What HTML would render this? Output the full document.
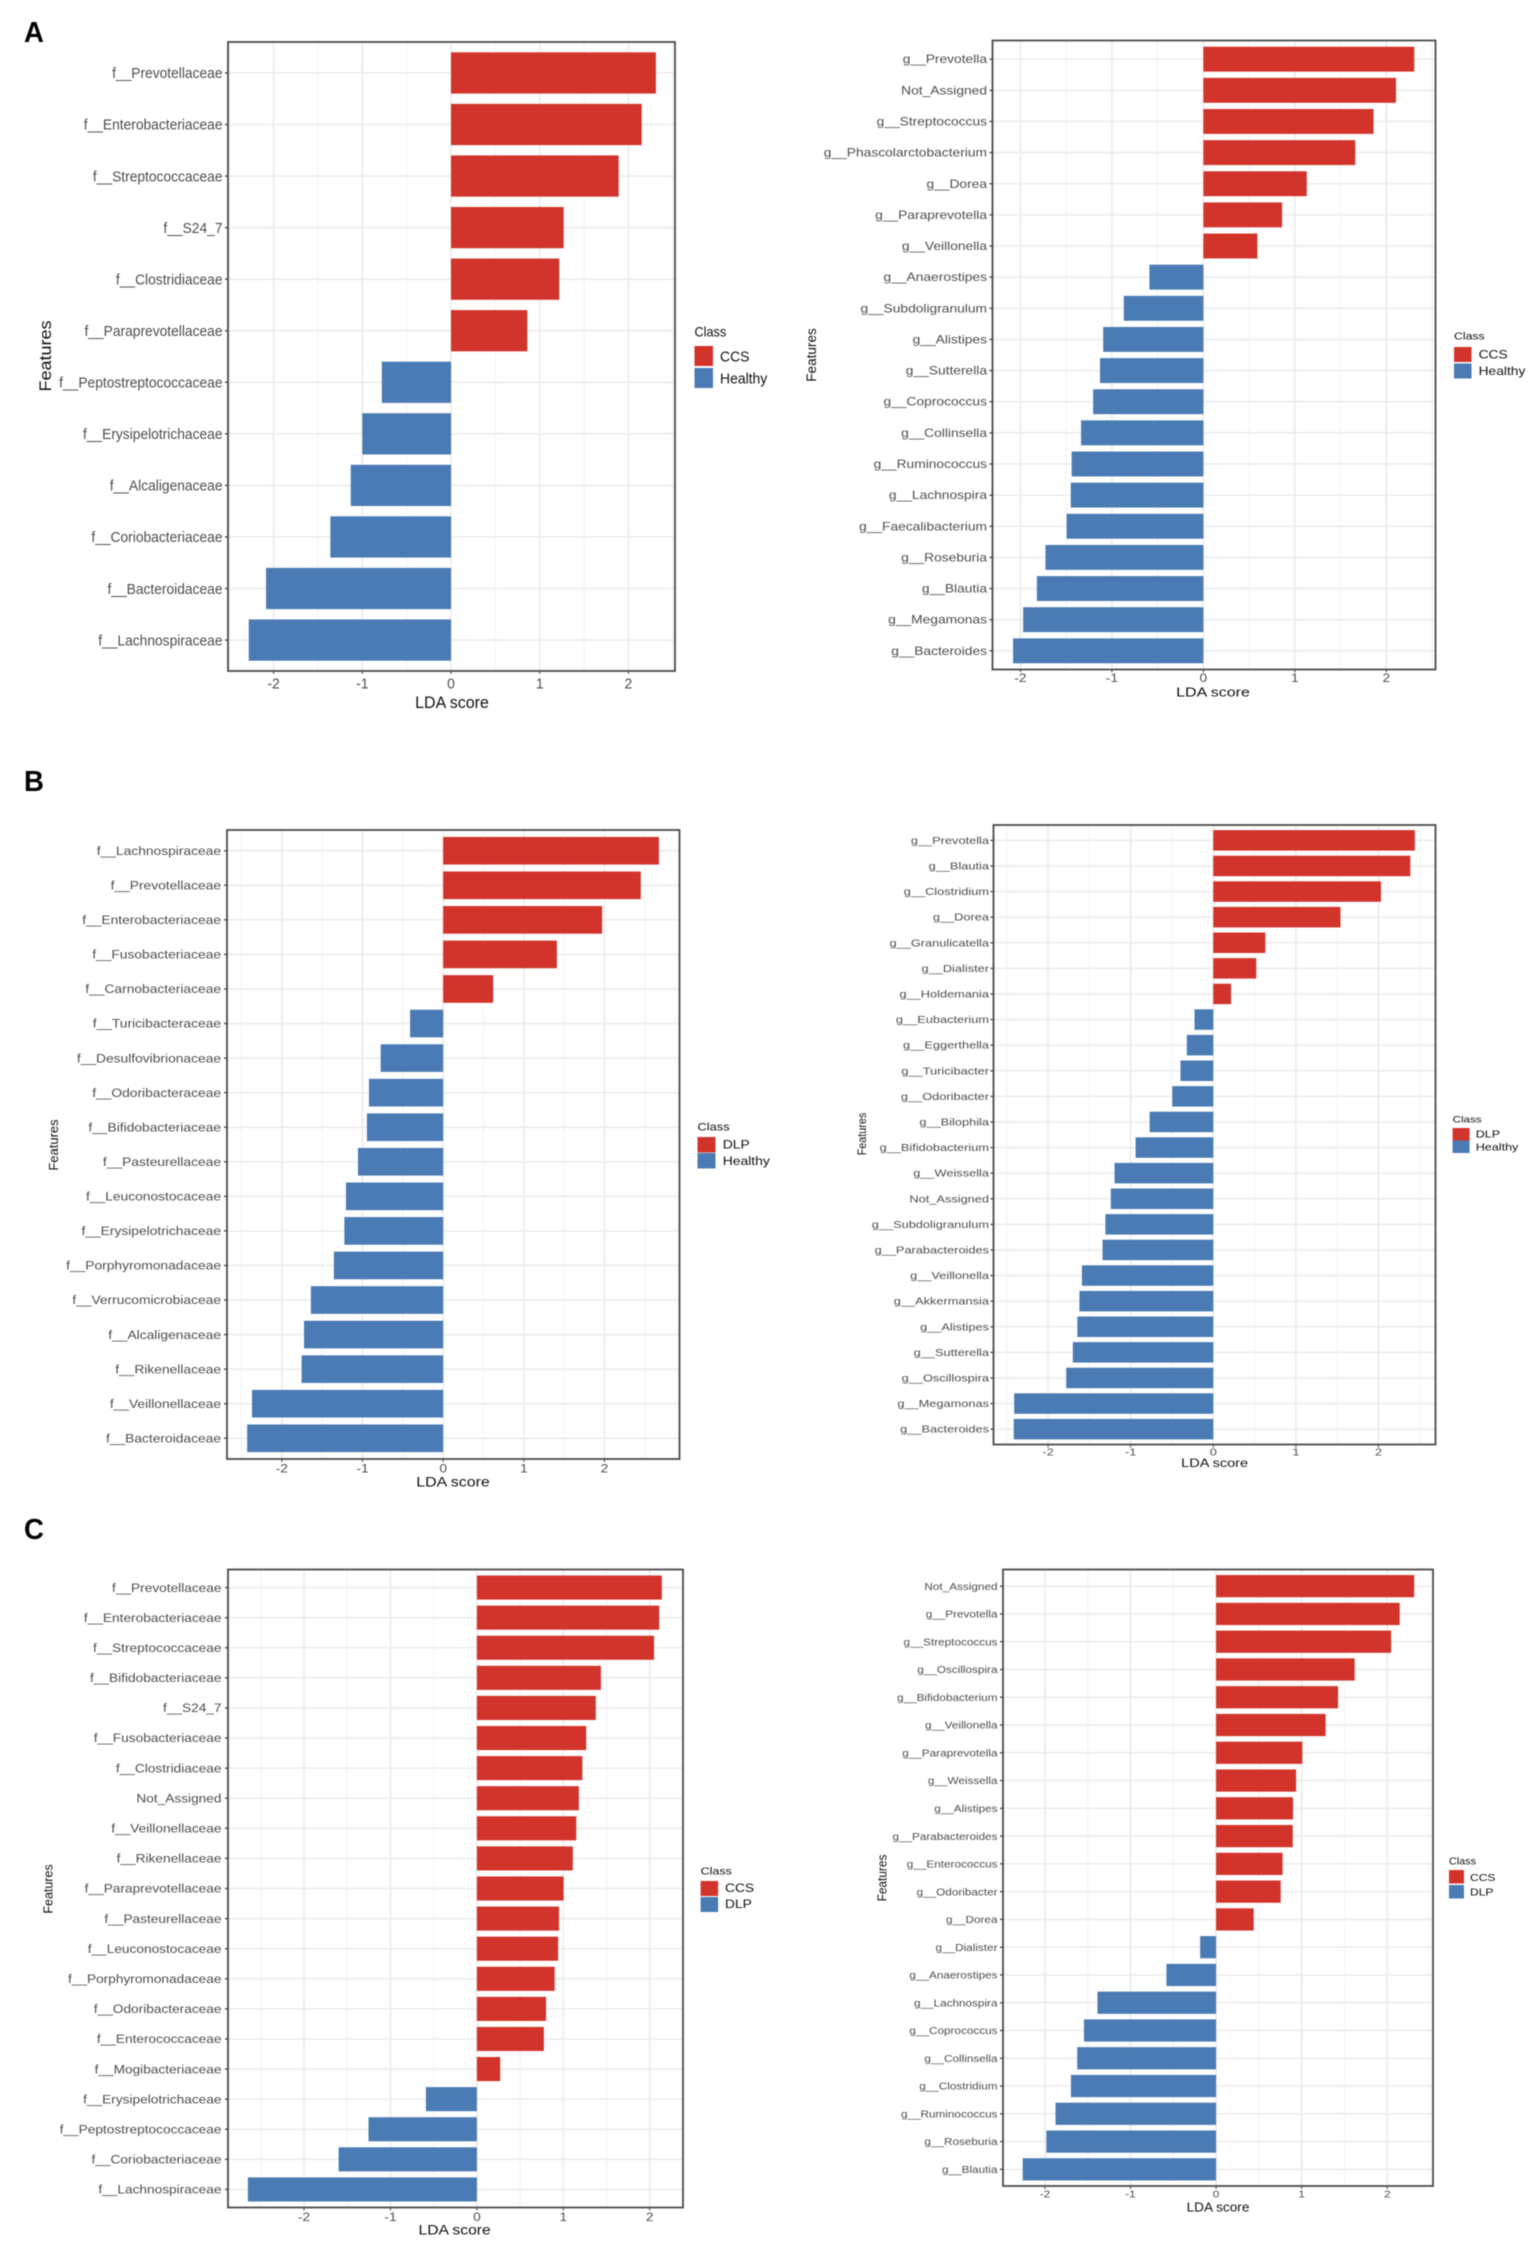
<!DOCTYPE html>
<html lang="en">
<head>
<meta charset="utf-8">
<title>LDA score bar charts</title>
<style>
  html, body { margin: 0; padding: 0; background: #fff; }
  #figure { display: block; width: 1535px; height: 2244px; filter: blur(0.55px); font-family: "Liberation Sans", sans-serif; }
</style>
</head>
<body>
<svg id="figure" xmlns="http://www.w3.org/2000/svg" width="1535" height="2244" viewBox="0 0 1535 2244">
  <rect x="0" y="0" width="1535" height="2244" fill="#fff"/>
  <text transform="translate(24,42) scale(.95,1)" font-size="29" font-weight="700" fill="#000">A</text>
  <text transform="translate(24,791) scale(.95,1)" font-size="29" font-weight="700" fill="#000">B</text>
  <text transform="translate(24,1539) scale(.95,1)" font-size="29" font-weight="700" fill="#000">C</text>
</svg>
<script>
const xTicks = [-2, -1, 0, 1, 2];

const a1Features = ["f__Prevotellaceae","f__Enterobacteriaceae","f__Streptococcaceae","f__S24_7","f__Clostridiaceae","f__Paraprevotellaceae","f__Peptostreptococcaceae","f__Erysipelotrichaceae","f__Alcaligenaceae","f__Coriobacteriaceae","f__Bacteroidaceae","f__Lachnospiraceae"];
const a1Scores = [2.31,2.15,1.89,1.27,1.22,0.86,-0.78,-1.0,-1.13,-1.36,-2.085,-2.28];
const a1Classes = ["CCS","Healthy"];

const a2Features = ["g__Prevotella","Not_Assigned","g__Streptococcus","g__Phascolarctobacterium","g__Dorea","g__Paraprevotella","g__Veillonella","g__Anaerostipes","g__Subdoligranulum","g__Alistipes","g__Sutterella","g__Coprococcus","g__Collinsella","g__Ruminococcus","g__Lachnospira","g__Faecalibacterium","g__Roseburia","g__Blautia","g__Megamonas","g__Bacteroides"];
const a2Scores = [2.305,2.105,1.86,1.66,1.13,0.86,0.59,-0.59,-0.87,-1.095,-1.13,-1.205,-1.337,-1.44,-1.45,-1.495,-1.726,-1.82,-1.97,-2.08];
const a2Classes = ["CCS","Healthy"];

const b1Features = ["f__Lachnospiraceae","f__Prevotellaceae","f__Enterobacteriaceae","f__Fusobacteriaceae","f__Carnobacteriaceae","f__Turicibacteraceae","f__Desulfovibrionaceae","f__Odoribacteraceae","f__Bifidobacteriaceae","f__Pasteurellaceae","f__Leuconostocaceae","f__Erysipelotrichaceae","f__Porphyromonadaceae","f__Verrucomicrobiaceae","f__Alcaligenaceae","f__Rikenellaceae","f__Veillonellaceae","f__Bacteroidaceae"];
const b1Scores = [2.675,2.45,1.97,1.41,0.62,-0.41,-0.775,-0.92,-0.945,-1.056,-1.205,-1.225,-1.355,-1.64,-1.725,-1.755,-2.37,-2.43];
const b1Classes = ["DLP","Healthy"];

const b2Features = ["g__Prevotella","g__Blautia","g__Clostridium","g__Dorea","g__Granulicatella","g__Dialister","g__Holdemania","g__Eubacterium","g__Eggerthella","g__Turicibacter","g__Odoribacter","g__Bilophila","g__Bifidobacterium","g__Weissella","Not_Assigned","g__Subdoligranulum","g__Parabacteroides","g__Veillonella","g__Akkermansia","g__Alistipes","g__Sutterella","g__Oscillospira","g__Megamonas","g__Bacteroides"];
const b2Scores = [2.44,2.385,2.03,1.54,0.63,0.52,0.215,-0.227,-0.32,-0.397,-0.496,-0.77,-0.94,-1.195,-1.24,-1.306,-1.34,-1.59,-1.62,-1.645,-1.70,-1.78,-2.41,-2.415];
const b2Classes = ["DLP","Healthy"];

const c1Features = ["f__Prevotellaceae","f__Enterobacteriaceae","f__Streptococcaceae","f__Bifidobacteriaceae","f__S24_7","f__Fusobacteriaceae","f__Clostridiaceae","Not_Assigned","f__Veillonellaceae","f__Rikenellaceae","f__Paraprevotellaceae","f__Pasteurellaceae","f__Leuconostocaceae","f__Porphyromonadaceae","f__Odoribacteraceae","f__Enterococcaceae","f__Mogibacteriaceae","f__Erysipelotrichaceae","f__Peptostreptococcaceae","f__Coriobacteriaceae","f__Lachnospiraceae"];
const c1Scores = [2.14,2.11,2.05,1.435,1.376,1.265,1.22,1.18,1.15,1.11,1.003,0.95,0.94,0.90,0.80,0.775,0.27,-0.59,-1.254,-1.60,-2.65];
const c1Classes = ["CCS","DLP"];

const c2Features = ["Not_Assigned","g__Prevotella","g__Streptococcus","g__Oscillospira","g__Bifidobacterium","g__Veillonella","g__Paraprevotella","g__Weissella","g__Alistipes","g__Parabacteroides","g__Enterococcus","g__Odoribacter","g__Dorea","g__Dialister","g__Anaerostipes","g__Lachnospira","g__Coprococcus","g__Collinsella","g__Clostridium","g__Ruminococcus","g__Roseburia","g__Blautia"];
const c2Scores = [2.315,2.146,2.045,1.62,1.425,1.28,1.008,0.935,0.90,0.896,0.777,0.755,0.44,-0.186,-0.58,-1.386,-1.544,-1.623,-1.696,-1.876,-1.983,-2.26];
const c2Classes = ["CCS","DLP"];

const RED = "#d2342b";
const BLUE = "#4a7bb4";
const SVGNS = "http://www.w3.org/2000/svg";
const figure = document.getElementById("figure");

const layouts = [
  { id:"a1", features:a1Features, scores:a1Scores, classes:a1Classes,
    box:{l:228,r:675,t:42,b:671}, dom:{min:-2.514,max:2.525},
    lab:{fs:15,sx:.92,gap:5.5}, xt:{y:683,fs:15,sx:.93},
    title:{x:452,y:702,fs:17,sx:.94}, ytitle:{x:45,y:356,fs:17,sx:1.06},
    leg:{x:694.5,cy:332,hfs:13.5,hsx:.94,sw:18.5,y1:346,y2:368,sh:20,lx:720,c1:356,c2:378,fs:15,sx:.93} },
  { id:"a2", features:a2Features, scores:a2Scores, classes:a2Classes,
    box:{l:992.5,r:1435.5,t:40.5,b:669.5}, dom:{min:-2.305,max:2.537},
    lab:{fs:11.5,sx:1.2,gap:5.5}, xt:{y:678,fs:11.5,sx:1.2},
    title:{x:1213,y:692,fs:13,sx:1.23}, ytitle:{x:811,y:355,fs:14,sx:.97},
    leg:{x:1454,cy:336,hfs:10,hsx:1.23,sw:17.5,y1:347,y2:363.5,sh:15,lx:1478.6,c1:354.5,c2:371,fs:11.5,sx:1.2} },
  { id:"b1", features:b1Features, scores:b1Scores, classes:b1Classes,
    box:{l:227,r:679.5,t:830,b:1459}, dom:{min:-2.68,max:2.93},
    lab:{fs:12,sx:1.15,gap:6}, xt:{y:1468.5,fs:12,sx:1.15},
    title:{x:453,y:1482,fs:13.5,sx:1.18}, ytitle:{x:53.5,y:1145,fs:13,sx:1},
    leg:{x:697.5,cy:1126.5,hfs:11,hsx:1.17,sw:18,y1:1137,y2:1153,sh:15.5,lx:722.7,c1:1144.5,c2:1161,fs:12,sx:1.16} },
  { id:"b2", features:b2Features, scores:b2Scores, classes:b2Classes,
    box:{l:993.5,r:1435.5,t:825,b:1444.5}, dom:{min:-2.66,max:2.69},
    lab:{fs:10,sx:1.28,gap:4.5}, xt:{y:1452,fs:10,sx:1.28},
    title:{x:1214.6,y:1463,fs:12,sx:1.21}, ytitle:{x:862,y:1134,fs:12,sx:.9},
    leg:{x:1452.6,cy:1119,hfs:9.5,hsx:1.22,sw:17,y1:1128,y2:1140.5,sh:12.5,lx:1475.7,c1:1134,c2:1147,fs:10.5,sx:1.2} },
  { id:"c1", features:c1Features, scores:c1Scores, classes:c1Classes,
    box:{l:228,r:683,t:1569.5,b:2207.5}, dom:{min:-2.88,max:2.385},
    lab:{fs:12,sx:1.14,gap:6.5}, xt:{y:2217,fs:12,sx:1.14},
    title:{x:454.6,y:2230,fs:13.5,sx:1.16}, ytitle:{x:48,y:1889,fs:13,sx:.96},
    leg:{x:700.6,cy:1871,hfs:10.5,hsx:1.19,sw:17.5,y1:1881,y2:1897,sh:15,lx:725,c1:1888,c2:1904,fs:11.5,sx:1.2} },
  { id:"c2", features:c2Features, scores:c2Scores, classes:c2Classes,
    box:{l:1003,r:1433,t:1569.5,b:2186}, dom:{min:-2.49,max:2.535},
    lab:{fs:10.5,sx:1.12,gap:5.5}, xt:{y:2194,fs:10.5,sx:1.12},
    title:{x:1218,y:2207,fs:12.5,sx:1.09}, ytitle:{x:882,y:1878,fs:12.5,sx:.95},
    leg:{x:1449,cy:1861,hfs:10,hsx:1.08,sw:15,y1:1870,y2:1885,sh:13.5,lx:1470,c1:1877.5,c2:1892,fs:10.5,sx:1.15} }
];

function svgEl(tag, parent) {
  const el = document.createElementNS(SVGNS, tag);
  parent.appendChild(el);
  return el;
}
function setLine(el, x1, y1, x2, y2, stroke, width) {
  el.setAttribute("x1", x1);
  el.setAttribute("y1", y1);
  el.setAttribute("x2", x2);
  el.setAttribute("y2", y2);
  el.setAttribute("stroke", stroke);
  el.setAttribute("stroke-width", width);
}
function setLabel(el, str, x, y, fs, sx, anchor, rot, fill) {
  el.textContent = str;
  el.setAttribute("dy", ".35em");
  el.setAttribute("font-size", fs);
  el.setAttribute("text-anchor", anchor);
  el.setAttribute("fill", fill);
  el.setAttribute("transform", "translate(" + x + "," + y + ") rotate(" + rot + ") scale(" + sx + ",1)");
}

function drawPanel(p) {
  const box = p.box;
  const n = p.features.length;
  const xScale = function (v) { return box.l + (v - p.dom.min) / (p.dom.max - p.dom.min) * (box.r - box.l); };
  const band = (box.b - box.t) / (n - 1 + 1.2);
  const yScale = function (i) { return box.t + band * (0.6 + i); };

  const g = svgEl("g", figure);
  
  

  // minor vertical grid
  for (let m = Math.ceil(p.dom.min * 2); m <= Math.floor(p.dom.max * 2); m++) {
    if (m % 2 === 0) continue;
    const minor = svgEl("line", g);
    
    
    setLine(minor, xScale(m / 2), box.t, xScale(m / 2), box.b, "#f2f2f2", 1);
  }
  // major vertical grid, ticks and tick labels
  xTicks.forEach(function (t) {
    const major = svgEl("line", g);
    
    
    setLine(major, xScale(t), box.t, xScale(t), box.b, "#ebebeb", 1.6);

    const tick = svgEl("line", g);
    
    
    setLine(tick, xScale(t), box.b, xScale(t), box.b + 3, "#444", 1);

    const tl = svgEl("text", g);
    
    
    setLabel(tl, String(t), xScale(t), p.xt.y, p.xt.fs, p.xt.sx, "middle", 0, "#4d4d4d");
  });
  // horizontal grid, y ticks and feature labels
  p.features.forEach(function (name, i) {
    const y = yScale(i);
    const hg = svgEl("line", g);
    
    
    setLine(hg, box.l, y, box.r, y, "#ebebeb", 1.6);

    const tick = svgEl("line", g);
    
    
    setLine(tick, box.l - 3, y, box.l, y, "#333", 1.2);

    const lab = svgEl("text", g);
    
    
    setLabel(lab, name, box.l - p.lab.gap, y, p.lab.fs, p.lab.sx, "end", 0, "#4d4d4d");
  });
  // bars
  p.scores.forEach(function (v, i) {
    const bar = svgEl("rect", g);
    
    
    const x0 = xScale(Math.min(v, 0));
    const x1 = xScale(Math.max(v, 0));
    bar.setAttribute("x", x0);
    bar.setAttribute("y", yScale(i) - band * 0.4);
    bar.setAttribute("width", x1 - x0);
    bar.setAttribute("height", band * 0.8);
    bar.setAttribute("fill", v >= 0 ? RED : BLUE);
  });
  // panel border
  const border = svgEl("rect", g);
  
  
  border.setAttribute("x", box.l);
  border.setAttribute("y", box.t);
  border.setAttribute("width", box.r - box.l);
  border.setAttribute("height", box.b - box.t);
  border.setAttribute("fill", "none");
  border.setAttribute("stroke", "#4a4a4a");
  border.setAttribute("stroke-width", 1.8);

  // axis titles
  const xTitle = svgEl("text", g);
  
  
  setLabel(xTitle, "LDA score", p.title.x, p.title.y, p.title.fs, p.title.sx, "middle", 0, "#111");

  const yTitle = svgEl("text", g);
  
  
  setLabel(yTitle, "Features", p.ytitle.x, p.ytitle.y, p.ytitle.fs, p.ytitle.sx, "middle", -90, "#111");

  // legend
  const leg = p.leg;
  const lh = svgEl("text", g);
  
  
  setLabel(lh, "Class", leg.x, leg.cy, leg.hfs, leg.hsx, "start", 0, "#111");

  const s1 = svgEl("rect", g);
  
  
  s1.setAttribute("x", leg.x);
  s1.setAttribute("y", leg.y1);
  s1.setAttribute("width", leg.sw);
  s1.setAttribute("height", leg.sh);
  s1.setAttribute("fill", RED);

  const s2 = svgEl("rect", g);
  
  
  s2.setAttribute("x", leg.x);
  s2.setAttribute("y", leg.y2);
  s2.setAttribute("width", leg.sw);
  s2.setAttribute("height", leg.sh);
  s2.setAttribute("fill", BLUE);

  const l1 = svgEl("text", g);
  
  
  setLabel(l1, p.classes[0], leg.lx, leg.c1, leg.fs, leg.sx, "start", 0, "#111");

  const l2 = svgEl("text", g);
  
  
  setLabel(l2, p.classes[1], leg.lx, leg.c2, leg.fs, leg.sx, "start", 0, "#111");
}

layouts.forEach(drawPanel);
</script>
</body>
</html>
